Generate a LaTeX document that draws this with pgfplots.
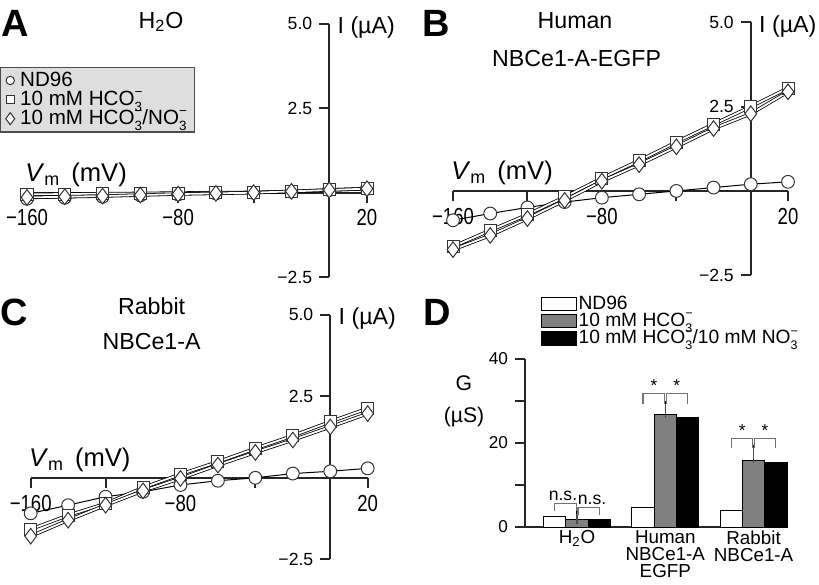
\documentclass[border=0pt]{standalone}
\usepackage{fontspec}
\setmainfont{Liberation Sans}
\newfontfamily\narrowfont{Liberation Sans}[FakeStretch=0.8]
\usepackage{graphicx}
\usepackage{pgfplots}
\usepackage{pgfplotstable}
\pgfplotsset{compat=1.18}

\newcommand\subsup[2]{\rlap{\raisebox{-0.3em}{\scalebox{0.65}{#1}}}\raisebox{0.44em}{\scalebox{0.65}{#2}}}
\newcommand\fs[1]{\fontsize{#1}{#1}\selectfont}

\pgfplotstableread{
v nd hc no
-160 -0.18 -0.05 -0.14
-140 -0.15 -0.04 -0.12
-120 -0.12 -0.03 -0.10
-100 -0.08 -0.02 -0.07
-80 -0.05 -0.01 -0.04
-60 -0.02 0.00 -0.02
-40 0.00 0.01 0.00
-20 0.03 0.03 0.04
0 0.08 0.08 0.08
20 0.12 0.12 0.12
}\tabA
\pgfplotstableread{
v nd hc no
-160 -0.87 -1.65 -1.74
-140 -0.67 -1.17 -1.32
-120 -0.49 -0.70 -0.82
-100 -0.33 -0.18 -0.28
-80 -0.20 0.38 0.29
-60 -0.10 0.90 0.78
-40 0.00 1.45 1.31
-20 0.10 1.98 1.85
0 0.20 2.50 2.29
20 0.27 3.05 2.94
}\tabB
\pgfplotstableread{
v nd hc no
-160 -1.09 -1.58 -1.79
-140 -0.84 -1.15 -1.30
-120 -0.58 -0.79 -0.84
-100 -0.43 -0.30 -0.40
-80 -0.22 0.11 -0.02
-60 -0.09 0.49 0.39
-40 0.00 0.90 0.78
-20 0.13 1.29 1.16
0 0.20 1.72 1.56
20 0.29 2.13 1.97
}\tabC

\pgfplotsset{
  markleg/.style={legend image code/.code={\draw[##1] plot coordinates {(0bp,0bp)};}},
  barleg/.style={legend image code/.code={\draw[##1] (0bp,-3.4bp) rectangle (17.5bp,3.4bp);}},
  ivaxis/.style={
    anchor=south west, scale only axis, clip=false,
    axis lines=middle, axis line style={-, line width=1bp, black!85},
    xmin=-160, xmax=20, ymin=-2.5, ymax=5,
    xtick={-160,-120,-80,-40,20}, xticklabels={−160,,−80,,20},
    ytick={-2.5,2.5,5}, yticklabels={−2.5,2.5,5.0},
    tick align=outside, major tick length=5bp,
    tick style={line width=1bp, black!85},
    xticklabel style={font=\narrowfont\fs{11.6bp}},
    yticklabel style={font=\fs{8.8bp}},
  },
  ndline/.style={no marks, black, line width=0.5bp},
  dline/.style={no marks, black, line width=0.4bp, double=white, double distance=0.9bp},
  cmark/.style={only marks, mark=*, mark size=3.2bp, mark options={fill=white, draw=black!80, line width=0.5bp}},
  smark/.style={only marks, mark=square*, mark size=3.0bp, mark options={fill=white, draw=black!80, line width=0.5bp}},
  dmark/.style={only marks, mark=diamond*, mark size=3.9bp, mark options={fill=white, draw=black!80, line width=0.5bp}},
}

\newcommand\ivplots[1]{%
  \addplot[ndline] table[x=v,y=nd]{#1};
  \addplot[dline] table[x=v,y=hc]{#1};
  \addplot[dline] table[x=v,y=no]{#1};
  \addplot[cmark] table[x=v,y=nd]{#1};
  \addplot[smark] table[x=v,y=hc]{#1};
  \addplot[dmark] table[x=v,y=no]{#1};
  \node[anchor=base west, font=\fs{12.8bp}, inner sep=0pt, xshift=-1bp, yshift=5.5bp] at (axis cs:-160,0) {\textit{V}\textsubscript{m}\hspace{0.15em} (mV)};
  \node[anchor=west, font=\fs{11.6bp}, inner sep=0pt, xshift=4bp, yshift=-2bp] at (axis cs:0,5) {I (µA)};
}

\begin{document}
\begin{tikzpicture}
\useasboundingbox (0,0) rectangle (409.5bp,292.5bp);

% Panel A
\begin{axis}[ivaxis, at={(13.5bp,153.9bp)}, width=170bp, height=126.75bp,
  legend style={at={(axis description cs:-0.079,0.83)}, anchor=north west,
    fill=black!13, draw=black!70, line width=0.6bp, font=\fs{10.3bp},
    inner xsep=2.5bp, inner ysep=1bp, row sep=-1.6bp, column sep=1.5bp, legend cell align=left,
    nodes={inner sep=1.2bp}}]
  \addlegendimage{only marks, mark=*, mark size=2.1bp, mark options={fill=white, draw=black!80, line width=0.5bp}, markleg}
  \addlegendimage{only marks, mark=square*, mark size=2.1bp, mark options={fill=white, draw=black!80, line width=0.5bp}, markleg}
  \addlegendimage{only marks, mark=diamond*, mark size=3.0bp, mark options={fill=white, draw=black!80, line width=0.5bp}, markleg}
  \legend{ND96, 10 mM HCO\subsup{3}{−}, 10 mM HCO\subsup{3}{−}/NO\subsup{3}{−}}
  \ivplots{\tabA}
\end{axis}

% Panel B
\begin{axis}[ivaxis, at={(226.5bp,154.9bp)}, width=167.5bp, height=126.4bp]
  \ivplots{\tabB}
\end{axis}

% Panel C
\begin{axis}[ivaxis, at={(15.35bp,12.85bp)}, width=168.5bp, height=122.25bp]
  \ivplots{\tabC}
\end{axis}

% Panel D
\begin{axis}[at={(262.5bp,29bp)}, anchor=south west, scale only axis, clip=false,
  width=131.5bp, height=84bp,
  xmin=-0.59, xmax=2.39, ymin=0, ymax=40,
  axis lines=left, axis line style={-, line width=1bp, black!85},
  ytick={0,10,20,30,40}, yticklabels={0,,20,,40},
  tick align=outside, major tick length=5bp,
  ytick style={line width=1bp, black!85},
  yticklabel style={font=\fs{8.6bp}},
  xtick={0,1,2},
  xticklabels={H\textsubscript{2}O, {Human\\NBCe1-A\\EGFP}, {Rabbit\\NBCe1-A}},
  xtick style={draw=none},
  xticklabel style={align=center, font=\fontsize{9.4bp}{8.5bp}\selectfont, inner sep=1.5bp, yshift=5bp},
  ylabel={G\\[5.5bp](µS)},
  ylabel style={rotate=-90, at={(axis description cs:-0.232,0.75)}, anchor=center, align=center, font=\fs{10.6bp}},
  legend style={at={(axis description cs:0.035,1.415)}, anchor=north west, draw=none, fill=none,
    font=\fs{9.6bp}, legend cell align=left, row sep=-1.6bp, nodes={inner sep=1bp}},
]
  \addplot[ybar, bar width=11.15bp, bar shift=-11.15bp, fill=white, draw=black, line width=0.5bp, barleg,
    error bars/.cd, y dir=plus, y explicit, error bar style={line width=0.7bp, black},
    error mark options={line width=0.7bp, mark size=2.5bp, black}]
    coordinates {(0,2.6) +- (0,0.5) (1,4.6) +- (0,0.35) (2,3.9) +- (0,0.8)};
  \addplot[ybar, bar width=11.15bp, bar shift=0bp, fill={rgb,255:red,128;green,128;blue,128}, draw=black, line width=0.5bp, barleg,
    error bars/.cd, y dir=plus, y explicit, error bar style={line width=0.7bp, black},
    error mark options={line width=0.7bp, mark size=2.5bp, black}]
    coordinates {(0,1.8) +- (0,0.1) (1,26.9) +- (0,1.9) (2,15.9) +- (0,2.4)};
  \addplot[ybar, bar width=11.15bp, bar shift=11.15bp, fill=black, draw=black, line width=0.5bp, barleg,
    error bars/.cd, y dir=plus, y explicit, error bar style={line width=0.7bp, black!70},
    error mark options={line width=0.7bp, mark size=2.5bp, black!70}]
    coordinates {(0,1.8) +- (0,0.1) (1,26.0) +- (0,2.1) (2,15.3) +- (0,2.5)};
  \legend{ND96, 10 mM HCO\subsup{3}{−}, 10 mM HCO\subsup{3}{−}/10 mM NO\subsup{3}{−}}
  % significance brackets
  \draw[black!55, line width=0.55bp] (axis cs:-0.253,3.9) -- (axis cs:-0.253,5.7) -- (axis cs:-0.01,5.7) -- (axis cs:-0.01,3.9);
  \draw[black!55, line width=0.55bp] (axis cs:0.01,2.9) -- (axis cs:0.01,4.7) -- (axis cs:0.253,4.7) -- (axis cs:0.253,2.9);
  \node[font=\fs{8.8bp}, anchor=base] at (axis cs:-0.16,6.3) {n.s.};
  \node[font=\fs{8.8bp}, anchor=base] at (axis cs:0.17,5.3) {n.s.};
  \draw[black!55, line width=0.55bp] (axis cs:0.747,29.4) -- (axis cs:0.747,31.7) -- (axis cs:0.99,31.7) -- (axis cs:0.99,29.4);
  \draw[black!55, line width=0.55bp] (axis cs:1.01,29.4) -- (axis cs:1.01,31.7) -- (axis cs:1.253,31.7) -- (axis cs:1.253,29.4);
  \node[font=\fs{8.6bp}] at (axis cs:0.87,33.6) {*};
  \node[font=\fs{8.6bp}] at (axis cs:1.13,33.6) {*};
  \draw[black!55, line width=0.55bp] (axis cs:1.747,18.9) -- (axis cs:1.747,21.0) -- (axis cs:1.99,21.0) -- (axis cs:1.99,18.9);
  \draw[black!55, line width=0.55bp] (axis cs:2.01,18.9) -- (axis cs:2.01,21.0) -- (axis cs:2.253,21.0) -- (axis cs:2.253,18.9);
  \node[font=\fs{8.6bp}] at (axis cs:1.87,22.9) {*};
  \node[font=\fs{8.6bp}] at (axis cs:2.13,22.9) {*};
\end{axis}

% Panel letters and titles
\node[font=\fs{19bp}\bfseries] at (7.5bp,281bp) {A};
\node[font=\fs{19bp}\bfseries] at (218bp,281bp) {B};
\node[font=\fs{19bp}\bfseries] at (7bp,136.5bp) {C};
\node[font=\fs{19bp}\bfseries] at (218.5bp,136.5bp) {D};
\node[font=\fs{11.6bp}, anchor=base] at (80.5bp,278.4bp) {H\textsubscript{2}O};
\node[font=\fs{11.6bp}, anchor=base] at (287.5bp,278.4bp) {Human};
\node[font=\fs{11.6bp}, anchor=base] at (288.3bp,259.2bp) {NBCe1-A-EGFP};
\node[font=\fs{11.6bp}, anchor=base] at (75.8bp,135bp) {Rabbit};
\node[font=\fs{11.6bp}, anchor=base] at (75.8bp,117.5bp) {NBCe1-A};
\end{tikzpicture}
\end{document}
